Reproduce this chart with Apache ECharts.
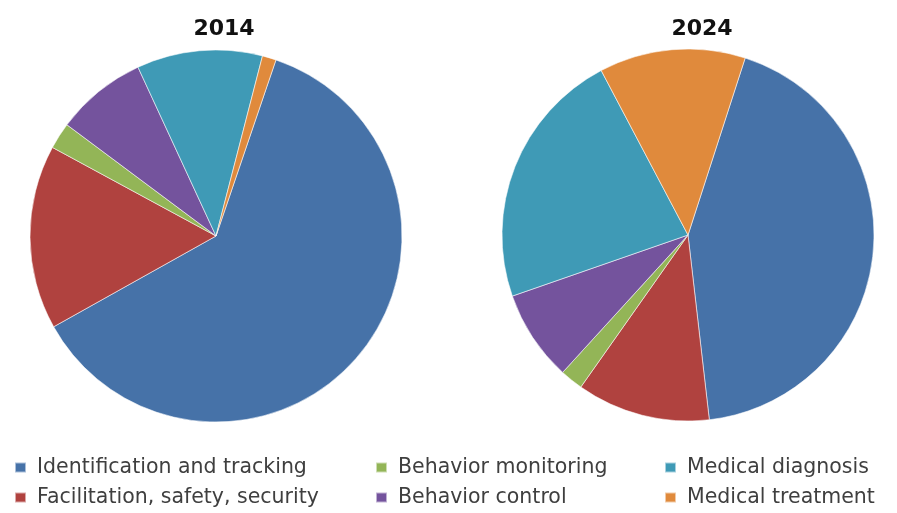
<!DOCTYPE html>
<html>
<head>
<meta charset="utf-8">
<script src="https://cdn.jsdelivr.net/npm/echarts@6/dist/echarts.min.js"></script>
<style>
html,body{margin:0;padding:0;background:#fff;}
#c{width:897px;height:513px;}
</style>
</head>
<body>
<div id="c"></div>
<script>
const categories = [
  "Identification and tracking",
  "Facilitation, safety, security",
  "Behavior monitoring",
  "Behavior control",
  "Medical diagnosis",
  "Medical treatment"
];
const values2014 = [61.6, 16.0, 2.3, 7.9, 10.9, 1.2];
const values2024 = [43.2, 11.6, 2.0, 7.9, 22.6, 12.7];
const years = ["2014", "2024"];
const colors = ["#4672a8", "#b0423f", "#93b557", "#74539d", "#3f9ab6", "#e08a3c"];

const chart = echarts.init(document.getElementById('c'), null, {renderer: 'canvas'});
const font = "'DejaVu Sans', sans-serif";

function pieData(vals) {
  return categories.map((n, i) => ({name: n, value: vals[i]}));
}
function legendCol(names, left) {
  return {
    orient: 'vertical', left: left, top: 452,
    data: names, icon: 'rect', itemWidth: 11, itemHeight: 10,
    itemGap: 9, selectedMode: false,
    textStyle: {fontFamily: font, fontSize: 20.5, color: '#3f3f3f', lineHeight: 20, padding: [0,0,0,6]}
  };
}

chart.setOption({
  animation: false,
  color: colors,
  title: [
    {text: years[0], left: 219, top: 13, textAlign: 'center',
     textStyle: {fontFamily: font, fontSize: 22, fontWeight: 'bold', color: '#111'}},
    {text: years[1], left: 697, top: 13, textAlign: 'center',
     textStyle: {fontFamily: font, fontSize: 22, fontWeight: 'bold', color: '#111'}}
  ],
  legend: [
    legendCol([categories[0], categories[1]], 9),
    legendCol([categories[2], categories[3]], 370),
    legendCol([categories[4], categories[5]], 659)
  ],
  series: [
    {type: 'pie', name: years[0], center: [216, 236], radius: 186, startAngle: 71.2,
     clockwise: true, label: {show: false}, labelLine: {show: false},
     itemStyle: {borderColor: 'rgba(255,255,255,0.55)', borderWidth: 1},
     emphasis: {disabled: true}, data: pieData(values2014)},
    {type: 'pie', name: years[1], center: [688, 235], radius: 186, startAngle: 72.1,
     clockwise: true, label: {show: false}, labelLine: {show: false},
     itemStyle: {borderColor: 'rgba(255,255,255,0.55)', borderWidth: 1},
     emphasis: {disabled: true}, data: pieData(values2024)}
  ]
});
</script>
</body>
</html>
